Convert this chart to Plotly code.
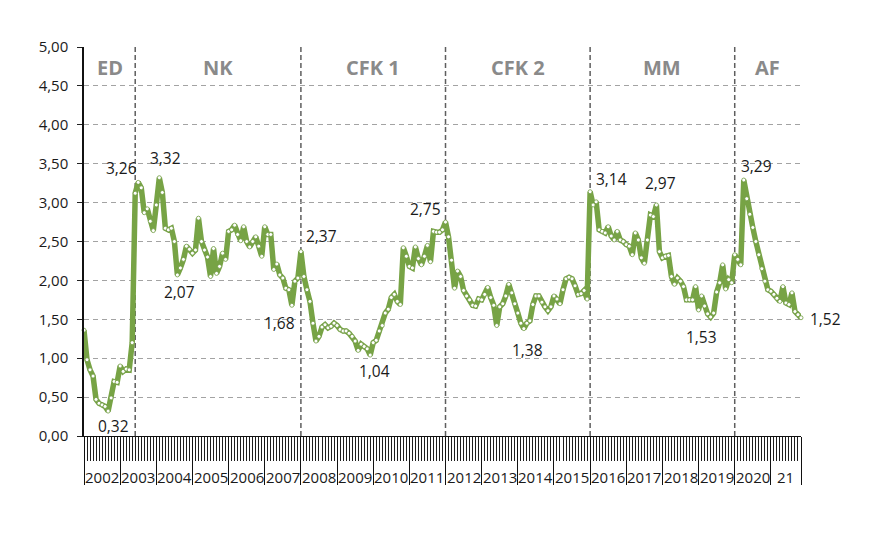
import plotly.graph_objects as go

# monthly index values, Jan 2002 .. Nov 2021 (one row per year)
icg = [
    1.36, 0.98, 0.85, 0.77, 0.47, 0.42, 0.40, 0.38, 0.32, 0.49, 0.70, 0.69,  # 2002
    0.90, 0.83, 0.86, 0.85, 1.20, 3.12, 3.26, 3.19, 2.87, 2.92, 2.76, 2.64,  # 2003
    2.97, 3.32, 3.13, 2.67, 2.65, 2.67, 2.50, 2.07, 2.16, 2.27, 2.44, 2.40,  # 2004
    2.35, 2.39, 2.80, 2.50, 2.39, 2.30, 2.05, 2.41, 2.09, 2.18, 2.35, 2.27,  # 2005
    2.63, 2.65, 2.71, 2.59, 2.51, 2.69, 2.50, 2.43, 2.50, 2.56, 2.44, 2.31,  # 2006
    2.69, 2.59, 2.59, 2.14, 2.21, 2.07, 2.03, 1.90, 1.88, 1.68, 1.99, 2.03,  # 2007
    2.37, 2.05, 1.88, 1.73, 1.45, 1.22, 1.28, 1.40, 1.43, 1.39, 1.41, 1.45,  # 2008
    1.42, 1.37, 1.35, 1.35, 1.32, 1.28, 1.22, 1.10, 1.18, 1.15, 1.12, 1.04,  # 2009
    1.20, 1.23, 1.35, 1.42, 1.58, 1.63, 1.78, 1.82, 1.73, 1.69, 2.42, 2.31,  # 2010
    2.18, 2.16, 2.43, 2.28, 2.20, 2.31, 2.45, 2.24, 2.63, 2.62, 2.62, 2.65,  # 2011
    2.75, 2.56, 2.26, 1.90, 2.12, 2.05, 1.87, 1.80, 1.75, 1.68, 1.67, 1.76,  # 2012
    1.75, 1.82, 1.91, 1.78, 1.68, 1.42, 1.66, 1.70, 1.80, 1.95, 1.84, 1.70,  # 2013
    1.58, 1.45, 1.38, 1.45, 1.48, 1.69, 1.80, 1.80, 1.72, 1.66, 1.61, 1.66,  # 2014
    1.80, 1.76, 1.70, 1.88, 2.02, 2.04, 2.02, 1.93, 1.82, 1.83, 1.87, 1.76,  # 2015
    3.14, 2.97, 3.01, 2.65, 2.63, 2.61, 2.69, 2.57, 2.52, 2.63, 2.52, 2.50,  # 2016
    2.46, 2.44, 2.33, 2.61, 2.52, 2.29, 2.22, 2.52, 2.84, 2.82, 2.97, 2.37,  # 2017
    2.29, 2.31, 2.32, 2.05, 1.95, 2.03, 1.99, 1.92, 1.75, 1.75, 1.75, 1.92,  # 2018
    1.62, 1.80, 1.67, 1.57, 1.53, 1.58, 1.85, 1.97, 2.20, 1.89, 2.01, 1.97,  # 2019
    2.33, 2.27, 2.20, 3.29, 3.05, 2.85, 2.68, 2.50, 2.33, 2.15, 1.99, 1.88,  # 2020
    1.86, 1.82, 1.77, 1.73, 1.92, 1.71, 1.69, 1.84, 1.60, 1.56, 1.52,        # 2021
]

year_labels = ["2002", "2003", "2004", "2005", "2006", "2007", "2008", "2009",
               "2010", "2011", "2012", "2013", "2014", "2015", "2016", "2017",
               "2018", "2019", "2020", "21"]

periods = ["ED", "NK", "CFK 1", "CFK 2", "MM", "AF"]
period_starts = [0, 17, 72, 120, 168, 216]

# months whose value is written on the chart
labelled = [8, 18, 25, 31, 69, 72, 95, 120, 146, 168, 190, 208, 219, 238]
label_shift = [(5, -15), (-17, 14), (6, 20), (2, -17), (-12, -18), (21, 16), (4, -16),
               (-20, 13), (4, -21), (21, 13), (4, 22), (-9, -20), (13, 14), (24, -1)]

GREEN = "#77a345"
FONT = "Open Sans"

months = list(range(len(icg)))
last = months[-1]
year_edges = list(range(0, len(icg), 12)) + [last]

fig = go.Figure()
fig.add_trace(go.Scatter(
    x=months, y=icg, mode="lines+markers",
    line=dict(color=GREEN, width=5.5),
    marker=dict(size=4, color="white", line=dict(color="#6e9a40", width=0.8)),
    cliponaxis=False, hoverinfo="skip", showlegend=False
))

# dashed separators between governments
for s in period_starts[1:]:
    fig.add_shape(type="line", xref="x", yref="y", x0=s, x1=s, y0=0, y1=5,
                  line=dict(color="#5e5e5e", width=1.5, dash="5px,3px"), layer="below")

ends = period_starts[1:] + [last]
for name, a, b in zip(periods, period_starts, ends):
    fig.add_annotation(x=(a + b) / 2, y=4.74, xref="x", yref="y", text=f"<b>{name}</b>",
                       showarrow=False, font=dict(family=FONT, size=20, color="#8a8a8a"))

for i, (dx, dy) in zip(labelled, label_shift):
    fig.add_annotation(x=i, y=icg[i], xref="x", yref="y",
                       text=f"{icg[i]:.2f}".replace(".", ","),
                       showarrow=False, xshift=dx, yshift=dy,
                       font=dict(family=FONT, size=15.5, color="#1a1a1a"))

for k, lab in enumerate(year_labels):
    a = year_edges[k]
    b = year_edges[k + 1]
    fig.add_annotation(x=(a + b) / 2, y=0, xref="x", yref="paper", yanchor="middle",
                       text=lab, showarrow=False, yshift=-41,
                       font=dict(family=FONT, size=15, color="#1a1a1a"))

fig.update_xaxes(
    range=[0, last], showgrid=False, zeroline=False,
    showline=True, linecolor="#111", linewidth=1.2,
    tickmode="array", tickvals=year_edges, ticks="outside", ticklen=48,
    tickcolor="#111", tickwidth=1.2, showticklabels=False,
    minor=dict(tick0=0, dtick=1, ticks="outside", ticklen=24, tickcolor="#1e1e1e", tickwidth=1.1)
)
fig.update_yaxes(
    range=[0, 5], dtick=0.5, tickformat=".2f", zeroline=False,
    showline=True, linecolor="#111", linewidth=1.5,
    ticks="outside", ticklen=5, tickcolor="#222", ticklabelstandoff=6,
    showgrid=True, gridcolor="#a3a3a3", gridwidth=1, griddash="5px,4px",
    tickfont=dict(family=FONT, size=15, color="#1a1a1a")
)
fig.update_layout(
    width=879, height=538,
    margin=dict(l=76, r=86, t=39, b=110),
    separators=",.",
    plot_bgcolor="white", paper_bgcolor="white",
    font=dict(family=FONT, size=15, color="#1a1a1a"),
)

fig.write_html("out.html")
